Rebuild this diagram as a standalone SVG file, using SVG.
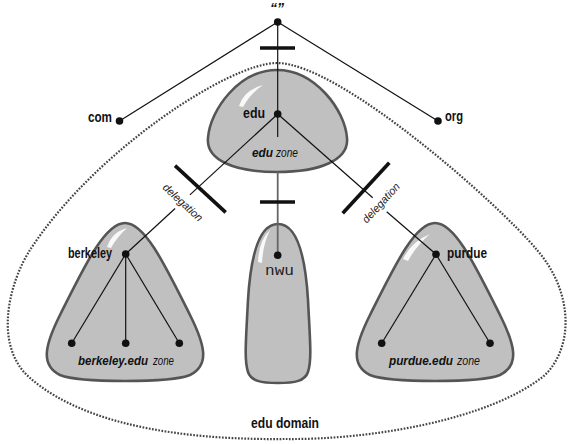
<svg xmlns="http://www.w3.org/2000/svg" width="571" height="444" viewBox="0 0 571 444">
<style>
.blob{fill:#c0c0c0;stroke:#555;stroke-width:2.6}
.hl{fill:#fff;opacity:0.9}
.ln{stroke:#111;stroke-width:1.2;fill:none}
.gln{stroke:#666;stroke-width:1.8;fill:none}
.bar{stroke:#111;stroke-width:3.6;fill:none}
.dot{fill:#111}
.lbl{font-family:"Liberation Sans",Arial,sans-serif;font-weight:bold;font-size:14px;fill:#111}
.zone{font-family:"Liberation Sans",Arial,sans-serif;font-style:italic;font-size:12px;fill:#111}
.zb{font-weight:bold}
.del{font-family:"Liberation Sans",Arial,sans-serif;font-style:italic;font-size:11px;fill:#222}
.mono{font-family:"Liberation Mono","Courier New",monospace;font-size:15px;fill:#222}
.dom{fill:none;stroke:#444;stroke-width:2.2;stroke-dasharray:1.7 1.5}
</style>
<defs>
<path id="tri" d="M125,223 C145,223 165,265 190,315 C205,345 210,365 190,375 C170,383 80,383 60,375 C40,365 45,345 60,315 C85,265 105,223 125,223 Z"/>
</defs>
<g id="edu-domain">
<path class="dom" d="M277,63 C230,63 95,150 30,250 C10,281 -8,345 30,378 C90,430 200,440 285,439 C370,440 490,420 545,375 C575,345 572,290 537,250 C500,205 340,63 277,63 Z"/>
<text class="lbl" x="285" y="428" text-anchor="middle" textLength="68" lengthAdjust="spacingAndGlyphs">edu domain</text>
</g>
<g id="node-edu">
<path class="blob" d="M277,70 C315,70 345,110 347,138 C349,160 320,172 277,172 C234,172 206,160 208,138 C210,110 239,70 277,70 Z"/>
<path class="hl" d="M239,106 Q244,90 263,85 Q250,94 243,107 Z"/>
<text class="lbl" x="265" y="118" text-anchor="end" textLength="22" lengthAdjust="spacingAndGlyphs">edu</text>
<text class="zone zb" x="252" y="157" textLength="21" lengthAdjust="spacingAndGlyphs">edu</text>
<text class="zone" x="276" y="157" textLength="22" lengthAdjust="spacingAndGlyphs">zone</text>
</g>
<g id="node-berkeley">
<use href="#tri" class="blob"/>
<path class="hl" d="M107,247 Q112,232 127,228 Q117,237 111,248 Z"/>
<text class="lbl" x="112" y="258" text-anchor="end" textLength="44" lengthAdjust="spacingAndGlyphs">berkeley</text>
<text class="zone zb" x="78" y="365" textLength="70" lengthAdjust="spacingAndGlyphs">berkeley.edu</text>
<text class="zone" x="153" y="365" textLength="21" lengthAdjust="spacingAndGlyphs">zone</text>
</g>
<g id="node-purdue">
<use href="#tri" class="blob" transform="translate(310,0)"/>
<path class="hl" d="M403,259 Q411,242 430,234 Q416,246 408,261 Z"/>
<text class="lbl" x="447" y="258" textLength="40" lengthAdjust="spacingAndGlyphs">purdue</text>
<text class="zone zb" x="389" y="365" textLength="64" lengthAdjust="spacingAndGlyphs">purdue.edu</text>
<text class="zone" x="457" y="365" textLength="23" lengthAdjust="spacingAndGlyphs">zone</text>
</g>
<g id="node-nwu">
<path class="blob" d="M278,224 C295,224 305,250 308,300 C310,340 312,360 308,372 C305,381 295,383 278,383 C261,383 251,381 248,372 C244,360 246,340 248,300 C251,250 261,224 278,224 Z"/>
<path class="hl" d="M258,262 Q259,240 270,230 Q263,244 262,263 Z"/>
<text class="mono" x="265" y="275" textLength="29" lengthAdjust="spacingAndGlyphs">nwu</text>
</g>
<g id="node-root">
<text class="lbl" x="277" y="13" text-anchor="middle" font-style="italic">“”</text>
</g>
<g id="node-com">
<text class="lbl" x="112" y="122" text-anchor="end" textLength="24" lengthAdjust="spacingAndGlyphs">com</text>
</g>
<g id="node-org">
<text class="lbl" x="445" y="121" textLength="18" lengthAdjust="spacingAndGlyphs">org</text>
</g>
<g id="connectors">
<line class="ln" x1="277.7" y1="22" x2="119.5" y2="121"/>
<line class="ln" x1="277.7" y1="22" x2="438" y2="121"/>
<line class="ln" x1="277.7" y1="22" x2="277.7" y2="137"/>
<line class="gln" x1="277.7" y1="172" x2="277.7" y2="255"/>
<line class="ln" x1="277.7" y1="114" x2="189.9" y2="194.9"/>
<line class="ln" x1="175.1" y1="208.5" x2="125.7" y2="254"/>
<line class="ln" x1="277.7" y1="114" x2="372.7" y2="197.7"/>
<line class="ln" x1="386.7" y1="211.7" x2="436" y2="254.3"/>
<line class="ln" x1="125.7" y1="254" x2="71.7" y2="343.3"/>
<line class="ln" x1="125.7" y1="254" x2="125.7" y2="343.3"/>
<line class="ln" x1="125.7" y1="254" x2="179.3" y2="343.3"/>
<line class="ln" x1="436" y1="254.3" x2="381.7" y2="343.3"/>
<line class="ln" x1="436" y1="254.3" x2="490" y2="343.3"/>
<line class="bar" x1="260" y1="48" x2="295" y2="48"/>
<line class="bar" x1="260" y1="202" x2="295" y2="202"/>
<line class="bar" x1="175" y1="165.7" x2="225.7" y2="212.3"/>
<line class="bar" x1="389.3" y1="162.7" x2="342.7" y2="213.3"/>
<text class="del" transform="translate(182.7,202.7) rotate(42.6)" text-anchor="middle" y="3.5" textLength="50" lengthAdjust="spacingAndGlyphs">delegation</text>
<text class="del" transform="translate(381.2,203) rotate(-47.4)" text-anchor="middle" y="3.5" textLength="50" lengthAdjust="spacingAndGlyphs">delegation</text>
<circle class="dot" cx="277.7" cy="22" r="3.8"/>
<circle class="dot" cx="119.5" cy="121" r="3.8"/>
<circle class="dot" cx="438" cy="121" r="3.8"/>
<circle class="dot" cx="277.7" cy="114" r="3.8"/>
<circle class="dot" cx="125.7" cy="254" r="3.8"/>
<circle class="dot" cx="436" cy="254.3" r="3.8"/>
<circle class="dot" cx="277.7" cy="255.3" r="3.8"/>
<circle class="dot" cx="71.7" cy="343.3" r="3.8"/>
<circle class="dot" cx="125.7" cy="343.3" r="3.8"/>
<circle class="dot" cx="179.3" cy="343.3" r="3.8"/>
<circle class="dot" cx="381.7" cy="343.3" r="3.8"/>
<circle class="dot" cx="490" cy="343.3" r="3.8"/>
</g>
</svg>
